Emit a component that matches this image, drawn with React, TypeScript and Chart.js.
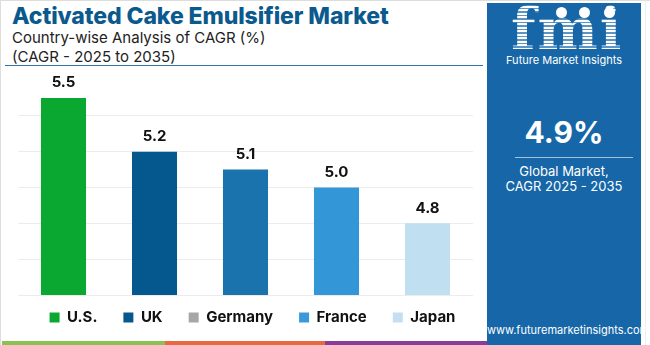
import React, { useEffect, useRef } from "react";
import { Chart, registerables } from "chart.js";

Chart.register(...registerables);

// ---- data ----
const categories = ["U.S.", "UK", "Germany", "France", "Japan"];
const cagrValues = [5.5, 5.2, 5.1, 5.0, 4.8];
const barColors = ["#0aa830", "#04588d", "#1a73ad", "#3396d6", "#c0dff0"];
const legendColors = ["#0aa830", "#04588d", "#a6a6a6", "#3a9ad9", "#c4def2"];
const yMin = 4.4;
const yMax = 5.6;
const yStep = 0.2;
const globalCagr = "4.9%";

const FONT = "Inter";

const valueLabels = {
  id: "valueLabels",
  afterDatasetsDraw(chart: any) {
    const ctx = chart.ctx;
    const meta = chart.getDatasetMeta(0);
    ctx.save();
    ctx.font = `700 15px ${FONT}`;
    ctx.fillStyle = "#111111";
    ctx.textAlign = "center";
    ctx.textBaseline = "middle";
    meta.data.forEach((bar: any, i: number) => {
      ctx.fillText(cagrValues[i].toFixed(1), bar.x, bar.y - 15);
    });
    ctx.restore();
  },
};

const legendShift = {
  id: "legendShift",
  afterLayout(chart: any) {
    const lg = chart.legend;
    if (lg) {
      lg.top -= 11;
      lg.bottom -= 11;
      lg.left += 9;
      lg.right += 9;
    }
  },
};

function BarChart() {
  const ref = useRef<HTMLCanvasElement | null>(null);
  useEffect(() => {
    if (!ref.current) return;
    const chart = new Chart(ref.current, {
      type: "bar",
      data: {
        labels: categories,
        datasets: [
          {
            label: "CAGR",
            data: cagrValues,
            backgroundColor: barColors,
            borderWidth: 0,
            categoryPercentage: 1,
            barPercentage: 0.495,
          },
        ],
      },
      options: {
        animation: false,
        responsive: false,
        maintainAspectRatio: false,
        layout: { padding: { top: 10, left: 0, right: 0, bottom: 0 } },
        scales: {
          x: { display: false, grid: { display: false } },
          y: {
            position: "left",
            min: yMin,
            max: yMax,
            ticks: { display: false, stepSize: yStep },
            border: { display: false },
            grid: {
              color: (c: any) => (c.tick && Math.abs(c.tick.value - yMax) < 1e-6 ? "rgba(0,0,0,0)" : "#ececec"),
              lineWidth: 1,
              drawTicks: false,
            },
            afterFit: (s: any) => {
              s.width = 18;
            },
          },
          yRight: {
            position: "right",
            min: yMin,
            max: yMax,
            ticks: { display: false },
            border: { display: false },
            grid: { display: false, drawTicks: false },
            afterFit: (s: any) => {
              s.width = 14;
            },
          },
        },
        plugins: {
          tooltip: { enabled: false },
          legend: {
            position: "bottom",
            onClick: () => {},
            labels: {
              boxWidth: 10,
              boxHeight: 10,
              padding: 26,
              color: "#111111",
              font: { family: FONT, size: 15, weight: "bold" },
              generateLabels: () =>
                categories.map((c, i) => ({
                  text: c,
                  fillStyle: legendColors[i],
                  strokeStyle: legendColors[i],
                  lineWidth: 0,
                  hidden: false,
                  index: i,
                  fontColor: "#111111",
                })),
            },
          },
        },
      },
      plugins: [valueLabels, legendShift],
    });
    return () => chart.destroy();
  }, []);
  return (
    <canvas
      ref={ref}
      width={487}
      height={276}
      style={{ position: "absolute", left: 0, top: 70, width: 487, height: 276 }}
    />
  );
}

export default function App() {
  const abs = (s: React.CSSProperties): React.CSSProperties => ({ position: "absolute", ...s });
  return (
    <div
      style={{
        position: "fixed",
        left: 0,
        top: 0,
        width: 650,
        height: 345,
        background: "#ffffff",
        overflow: "hidden",
        fontFamily: FONT,
      }}
    >
      {/* borders */}
      <div style={abs({ left: 0, top: 0, width: 650, height: 1, background: "#dddddd" })} />
      <div style={abs({ left: 0, top: 0, width: 1, height: 345, background: "#dddddd" })} />
      <div style={abs({ left: 645, top: 0, width: 1, height: 345, background: "#eeeeee" })} />

      {/* title */}
      <div
        style={abs({
          left: 12,
          top: 3.5,
          fontSize: 23,
          lineHeight: "24px",
          fontWeight: 800,
          letterSpacing: -0.1,
          color: "#0b5a8e",
          whiteSpace: "nowrap",
        })}
      >
        Activated Cake Emulsifier Market
      </div>
      <div style={abs({ left: 12, top: 27.5, fontSize: 15, lineHeight: "19px", color: "#222222", whiteSpace: "nowrap" })}>
        Country-wise Analysis of CAGR (%)
        <br />
        (CAGR - 2025 to 2035)
      </div>
      <div style={abs({ left: 5, top: 65, width: 478, height: 1, background: "#3574aa" })} />

      <BarChart />

      {/* bottom stripe */}
      <div style={abs({ left: 2, top: 341, width: 163, height: 4, background: "#8cc152" })} />
      <div style={abs({ left: 165, top: 341, width: 160, height: 4, background: "#e8693f" })} />
      <div style={abs({ left: 325, top: 341, width: 162, height: 4, background: "#8a3c97" })} />

      {/* right panel */}
      <div style={abs({ left: 487, top: 3, width: 154, height: 342, background: "#1767a8", color: "#ffffff" })}>
        <div
          style={abs({
            left: 24,
            top: -4,
            fontFamily: "DejaVu Serif",
            fontWeight: 700,
            fontSize: 57,
            lineHeight: "60px",
            letterSpacing: 2,
            backgroundImage:
              "repeating-linear-gradient(to bottom, #ffffff 0px, #ffffff 2px, rgba(255,255,255,0.3) 2px, rgba(255,255,255,0.3) 3.5px)",
            WebkitBackgroundClip: "text",
            backgroundClip: "text",
            color: "transparent",
          })}
        >
          fmi
        </div>
        <div style={abs({ left: 69, top: 4, width: 11, height: 11, borderRadius: "50%", background: "#ffffff" })} />
        <div style={abs({ left: 92, top: 4, width: 11, height: 11, borderRadius: "50%", background: "#ffffff" })} />
        <div style={abs({ left: 117, top: 4, width: 11, height: 11, borderRadius: "50%", background: "#ffffff" })} />
        <div
          style={abs({
            left: 0,
            top: 50,
            width: 154,
            textAlign: "center",
            fontSize: 11,
            lineHeight: "14px",
            whiteSpace: "nowrap",
          })}
        >
          Future Market Insights
        </div>
        <div
          style={abs({
            left: 0,
            top: 111,
            width: 154,
            textAlign: "center",
            fontSize: 30,
            lineHeight: "36px",
            fontWeight: 700,
          })}
        >
          {globalCagr}
        </div>
        <div style={abs({ left: 28, top: 154, width: 118, height: 1, background: "rgba(255,255,255,0.6)" })} />
        <div
          style={abs({
            left: 0,
            top: 161,
            width: 154,
            textAlign: "center",
            fontSize: 13,
            lineHeight: "14.5px",
          })}
        >
          Global Market,
          <br />
          CAGR 2025 - 2035
        </div>
        <div
          style={abs({
            left: 0,
            top: 320,
            width: 154,
            textAlign: "center",
            fontSize: 11,
            lineHeight: "14px",
            whiteSpace: "nowrap",
          })}
        >
          www.futuremarketinsights.com
        </div>
      </div>
    </div>
  );
}
